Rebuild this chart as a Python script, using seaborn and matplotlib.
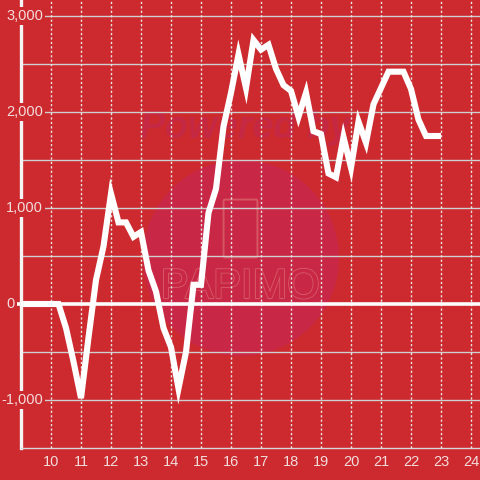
import numpy as np
import pandas as pd
import matplotlib
matplotlib.use("Agg")
import matplotlib.pyplot as plt
import matplotlib.patheffects as pe
import seaborn as sns
from matplotlib.patches import Circle, FancyBboxPatch

# ---- data ----
x_vals = [9.0, 9.25, 9.5, 9.75, 10.0, 10.25, 10.5, 10.75, 11.0, 11.25, 11.5, 11.75,
          12.0, 12.25, 12.5, 12.75, 13.0, 13.25, 13.5, 13.75, 14.0, 14.25, 14.5, 14.75,
          15.0, 15.25, 15.5, 15.75, 16.0, 16.25, 16.5, 16.75, 17.0, 17.25, 17.5, 17.75,
          18.0, 18.25, 18.5, 18.75, 19.0, 19.25, 19.5, 19.75, 20.0, 20.25, 20.5, 20.75,
          21.0, 21.25, 21.5, 21.75, 22.0, 22.25, 22.5, 22.75, 23.0]
y_vals = [0, 0, 0, 0, 0, 0, -250, -600, -980, -350, 250, 600,
          1150, 850, 850, 700, 750, 350, 130, -250, -450, -880, -500, 200,
          200, 950, 1200, 1850, 2200, 2600, 2250, 2750, 2650, 2700, 2450, 2280,
          2220, 1950, 2200, 1800, 1770, 1360, 1320, 1740, 1420, 1900, 1680, 2080,
          2250, 2420, 2420, 2420, 2240, 1920, 1750, 1750, 1750]
x_ticks = list(range(10, 25))
y_label_vals = [3000, 2000, 1000, 0, -1000]
y_label_txt = ["3,000", "2,000", "1,000", "0", "-1,000"]
y_grid = [-1000, -500, 500, 1000, 1500, 2000, 2500, 3000]

BG = "#cc2a2e"
TXT = "#f3dcdc"

sns.set_style("white")
plt.rcParams["font.family"] = ["Liberation Sans", "DejaVu Sans"]

fig = plt.figure(figsize=(4.8, 4.8), dpi=100, facecolor=BG)
ax = fig.add_axes([21 / 480, 1 - 448 / 480, 1 - 21 / 480, 448 / 480])
ax.set_facecolor(BG)
ax.set_xlim(9.0, 24.3)
ax.set_ylim(-1500, 3166.7)

# watermark
circ = Circle((241 / 480, 1 - 258 / 480), 98 / 480, transform=fig.transFigure,
              facecolor="#c92746", edgecolor="none", zorder=0.5)
fig.patches.append(circ)
fig.text(245 / 480, 1 - 128 / 480, "Powered by", fontsize=27, fontweight="bold",
         fontstyle="italic", color="#c52842", ha="center", va="center", zorder=0.6)
t = fig.text(240 / 480, 1 - 287 / 480, "PAPIMO", fontsize=30, color="#c92746",
             ha="center", va="center", zorder=0.6)
t.set_path_effects([pe.withStroke(linewidth=1.6, foreground="#d65664"), pe.Normal()])
fig.patches.append(FancyBboxPatch((225 / 480, 1 - 256 / 480), 31 / 480, 55 / 480,
                                  transform=fig.transFigure,
                                  boxstyle="round,pad=0.003", facecolor="none",
                                  edgecolor="#d65664", linewidth=1.4, zorder=0.6))
ax.set_zorder(1)
ax.patch.set_alpha(0)

# grid
for gy in y_grid:
    ax.axhline(gy, color="#cfcfcf", lw=1.0, zorder=1)
for gx in x_ticks:
    ax.axvline(gx, color="#e6e6e6", lw=1.0, ls=(0, (1.6, 1.6)), zorder=1)

# zero line
ax.axhline(0, xmin=-4 / 459, xmax=1, color="white", lw=2.6, zorder=1.5, clip_on=False)

df = pd.DataFrame({"x": x_vals, "y": y_vals})
sns.lineplot(data=df, x="x", y="y", ax=ax, color="white", lw=4.4, zorder=3,
             solid_joinstyle="miter", solid_capstyle="butt")

# spines
for s in ["top", "right"]:
    ax.spines[s].set_visible(False)
ax.spines["left"].set_color("#f4f4f4")
ax.spines["left"].set_linewidth(2.4)
ax.spines["left"].set_zorder(2)
ax.spines["bottom"].set_color("#d8d8d8")
ax.spines["bottom"].set_linewidth(1.0)

ax.set_xticks(x_ticks)
ax.set_xticklabels([str(v) for v in x_ticks], color=TXT, fontsize=10.5)
ax.tick_params(axis="x", length=0, pad=5)
ax.set_yticks([])
ax.set_xlabel("")
ax.set_ylabel("")

for v, s in zip(y_label_vals, y_label_txt):
    xr = 43 / 480 if v != 0 else 15 / 480
    fig_y = 1 - (304 - v * 96 / 1000) / 480
    fig.text(xr, fig_y, s, ha="right", va="center", color=TXT, fontsize=10.5, zorder=5,
             bbox=dict(facecolor=BG, edgecolor="none", pad=1.2))

fig.savefig("out.png", dpi=100, facecolor=BG)
